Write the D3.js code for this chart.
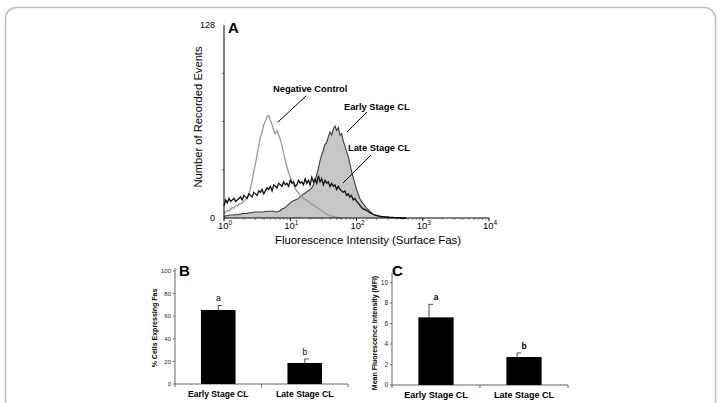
<!DOCTYPE html>
<html><head><meta charset="utf-8">
<script src="https://cdn.jsdelivr.net/npm/d3@7"></script>
<style>body{margin:0;background:#fff}svg{display:block;font-family:"Liberation Sans",Arial,sans-serif}</style>
</head><body><svg id="c" width="722" height="403"></svg>
<script>
// ---------- DATA ----------
// Histogram channels: each bin is 0.025 decade wide, starting at 10^0
const decadesPerBin = 0.025;
const negativeControl = [3,4,5,4.5,6,7,6.5,8,8,9, 9.5,10,11,12,13.5,16,20,25,31,36, 42,48,54,57,62,64,67,68,65,62, 58,56,58,55,52,48,43,38,34,30, 27,24,22,19.5,18,16.5,15,14.5,13,12.5, 11.5,11,10,9,8.5,8,7,6.5,5.5,4.5, 4,3.2,2.6,2,1.5,1.2,1,0.7,0.5,0.3, 0.2,0];
const earlyStageCL = [1,1.5,1.5,2,2,2,2,2.5,2,2.5, 2.5,3,3,3,3,3.5,3.5,3.5,4,4, 4,4,4,4,4,4.5,4.5,4.5,4.5,4.5, 4.5,4,4,4.5,5,6,6.5,7,8,9, 10,11,11.5,12,12.5,13,14,15,16,16.5, 17.5,18,19,20,22,25,29,33,38,42, 45,49,50,54,57,55,59,61,58,60, 55,56,51,48,44,41,36,31,27,23, 19,16,13,11,9.5,8,6.5,5.5,4.5,3.5, 2.5,2,1.5,1.3,1.1,1,0.9,0.8,0.7,0.6, 0.5,0.4,0.4,0.3,0.3,0.2,0.2,0.1,0.1,0, 0];
const lateStageCL = [8,12,10,13,11,12,13,11,12,13, 14,12,15,14,13,16,15,14,17,16, 15,18,17,19,16,18,20,19,21,18, 22,21,20,23,22,21,24,22,23,21, 25,23,24,21,22,25,23,24,22,26, 23,25,22,27,24,26,23,28,24,26, 22,25,23,24,21,23,21,22,19,21, 19,18,17,18,15,16,14,15,12,13, 11,10,8.5,7,6,5.5,5,4.5,3.5,3, 2.5,2,1.8,1.5,1.2,1,0.8,0.7,0.6,0.5, 0.4,0.3,0.3,0.2,0.2,0.1,0.1,0,0,0, 0];
const histYLabels = [0, 128];
const histYMinorTicks = [32, 64, 96];
const histXDecades = [0, 1, 2, 3, 4];
const histAnnotations = ["Negative Control", "Early Stage CL", "Late Stage CL"];

const barCategories = ["Early Stage CL", "Late Stage CL"];
const pctCellsFas = [65.5, 18.6];
const pctCellsFasErr = [4.0, 3.6];
const pctLetters = ["a", "b"];
const pctTicks = [0, 20, 40, 60, 80, 100];
const mfiValues = [6.6, 2.73];
const mfiErr = [1.27, 0.4];
const mfiLetters = ["a", "b"];
const mfiTicks = [0, 2, 4, 6, 8, 10];

// ---------- DRAW ----------
const svg = d3.select("#c");
svg.append("rect").attr("x",5.5).attr("y",7.5).attr("width",710).attr("height",430)
  .attr("rx",11).attr("fill","none").attr("stroke","#bdbdbd").attr("stroke-width",1.5);

// ===== Panel A =====
const xA = d3.scaleLog().domain([1, 1e4]).range([224, 489]);
const yA = d3.scaleLinear().domain([0, 128]).range([218, 25]);
const binX = i => xA(Math.pow(10, i * decadesPerBin));
const gA = svg.append("g");

const area = d3.area().x((d,i)=>binX(i)).y0(yA(0)).y1(d=>yA(d));
const line = d3.line().x((d,i)=>binX(i)).y(d=>yA(d));
gA.append("path").datum(earlyStageCL).attr("d", area).attr("fill","#c6c6c6");
gA.append("path").datum(earlyStageCL).attr("d", line).attr("fill","none").attr("stroke","#3c3c3c").attr("stroke-width",1.1);
gA.append("path").datum(negativeControl).attr("d", line).attr("fill","none").attr("stroke","#9a9a9a").attr("stroke-width",1.3);
gA.append("path").datum(lateStageCL).attr("d", line).attr("fill","none").attr("stroke","#111").attr("stroke-width",1.3);

// axes
gA.append("line").attr("x1",224).attr("x2",224).attr("y1",yA(128)).attr("y2",yA(0)).attr("stroke","#000");
gA.append("line").attr("x1",224).attr("x2",489).attr("y1",yA(0)).attr("y2",yA(0)).attr("stroke","#000");
histYMinorTicks.forEach(v=>gA.append("line").attr("x1",222).attr("x2",224).attr("y1",yA(v)).attr("y2",yA(v)).attr("stroke","#555"));
histYLabels.forEach(v=>gA.append("text").attr("x",215).attr("y",yA(v)+3).attr("text-anchor","end").attr("font-size",9).text(v));
const minor = [];
histXDecades.slice(0,-1).forEach(dd=>{ for(let k=2;k<10;k++) minor.push(k*Math.pow(10,dd)); });
minor.forEach(v=>gA.append("line").attr("x1",xA(v)).attr("x2",xA(v)).attr("y1",218).attr("y2",220).attr("stroke","#555").attr("stroke-width",0.7));
histXDecades.forEach(dd=>{
  const px = xA(Math.pow(10,dd));
  gA.append("line").attr("x1",px).attr("x2",px).attr("y1",218).attr("y2",221).attr("stroke","#000");
  const t = gA.append("text").attr("x",px+1).attr("y",229).attr("text-anchor","middle").attr("font-size",9.5);
  t.append("tspan").text("10");
  t.append("tspan").attr("dy",-4).attr("font-size",6.5).text(dd);
});
gA.append("text").attr("x",368).attr("y",244).attr("text-anchor","middle").attr("font-size",11.4)
  .text("Fluorescence Intensity (Surface Fas)");
gA.append("text").attr("transform","translate(202,117) rotate(-90)").attr("text-anchor","middle").attr("font-size",11.2)
  .text("Number of Recorded Events");
gA.append("text").attr("x",228).attr("y",33).attr("font-size",15).attr("font-weight","bold").text("A");

// annotations
const ann = [
  {t:histAnnotations[0], x:273, y:91.5, l:[[278,122],[306,96]]},
  {t:histAnnotations[1], x:344, y:109.5, l:[[347,132],[367,112]]},
  {t:histAnnotations[2], x:348, y:151, l:[[343,183],[371,155]]}
];
ann.forEach(a=>{
  gA.append("text").attr("x",a.x).attr("y",a.y).attr("font-size",9.3).attr("font-weight","bold").text(a.t);
  gA.append("line").attr("x1",a.l[0][0]).attr("y1",a.l[0][1]).attr("x2",a.l[1][0]).attr("y2",a.l[1][1]).attr("stroke","#000").attr("stroke-width",1);
});

// ===== Bar panels =====
function barPanel(opt){
  const g = svg.append("g");
  const x = d3.scaleBand().domain(barCategories).range([opt.x0, opt.x1]);
  const y = d3.scaleLinear().domain([0, opt.max]).range([opt.y0, opt.yTop]);
  const bw = x.bandwidth()*0.4;
  g.append("line").attr("x1",opt.x0).attr("x2",opt.x0).attr("y1",opt.axisTop).attr("y2",opt.y0).attr("stroke","#666");
  g.append("line").attr("x1",opt.x0).attr("x2",opt.x1).attr("y1",opt.y0).attr("y2",opt.y0).attr("stroke","#666");
  opt.ticks.forEach(v=>{
    g.append("line").attr("x1",opt.x0-2).attr("x2",opt.x0).attr("y1",y(v)).attr("y2",y(v)).attr("stroke","#666");
    g.append("text").attr("x",opt.x0-4).attr("y",y(v)+2.2).attr("text-anchor","end").attr("font-size",opt.tickFs).attr("fill","#222").text(v);
  });
  [opt.x0, x(barCategories[1]), opt.x1].forEach(px=>
    g.append("line").attr("x1",px).attr("x2",px).attr("y1",opt.y0).attr("y2",opt.y0+3).attr("stroke","#666"));
  barCategories.forEach((c,i)=>{
    const cx = x(c)+x.bandwidth()/2;
    g.append("rect").attr("x",cx-bw/2).attr("width",bw).attr("y",y(opt.vals[i])).attr("height",opt.y0-y(opt.vals[i])).attr("fill","#000");
    const ex = cx + opt.errOff;
    g.append("line").attr("x1",ex).attr("x2",ex).attr("y1",y(opt.vals[i])).attr("y2",y(opt.vals[i]+opt.errs[i])).attr("stroke","#333").attr("stroke-width",0.9);
    g.append("line").attr("x1",ex).attr("x2",ex+4).attr("y1",y(opt.vals[i]+opt.errs[i])).attr("y2",y(opt.vals[i]+opt.errs[i])).attr("stroke","#333").attr("stroke-width",0.9);
    g.append("text").attr("x",cx).attr("y",y(opt.vals[i]+opt.errs[i])-4).attr("text-anchor","middle")
      .attr("font-size",opt.letFs).attr("font-weight",opt.letW).text(opt.letters[i]);
    g.append("text").attr("x",cx).attr("y",opt.y0+13).attr("text-anchor","middle").attr("font-size",opt.catFs).attr("font-weight","bold").text(c);
  });
  g.append("text").attr("transform",`translate(${opt.ylx},${opt.yly}) rotate(-90)`).attr("text-anchor","middle")
    .attr("font-size",7).attr("font-weight","bold").text(opt.ylabel);
  g.append("text").attr("x",opt.x0+opt.letterDx).attr("y",276).attr("font-size",15).attr("font-weight","bold").text(opt.panel);
}
barPanel({x0:175,x1:348,y0:384,yTop:271,axisTop:268,max:100,vals:pctCellsFas,errs:pctCellsFasErr,letters:pctLetters,
  ticks:pctTicks,tickFs:6,letFs:8.5,letW:"normal",catFs:8.6,errOff:0,ylabel:"% Cells Expressing Fas",ylx:157,yly:328,panel:"B",letterDx:4});
barPanel({x0:392,x1:568,y0:385,yTop:282.5,axisTop:273,max:10,vals:mfiValues,errs:mfiErr,letters:mfiLetters,
  ticks:mfiTicks,tickFs:6.5,letFs:8.5,letW:"bold",catFs:9,errOff:-7,ylabel:"Mean Fluorescence Intensity (MFI)",ylx:377,yly:333,panel:"C",letterDx:0});
</script></body></html>
